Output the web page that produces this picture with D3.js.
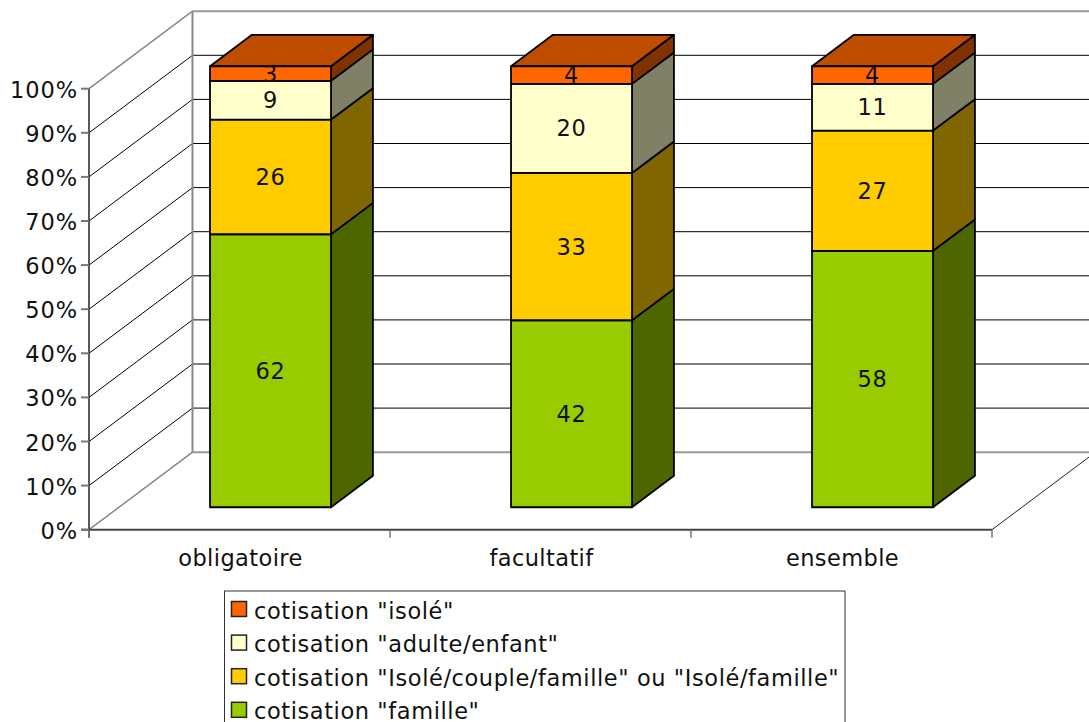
<!DOCTYPE html>
<html><head><meta charset="utf-8">
<script src="https://cdn.jsdelivr.net/npm/d3@7/dist/d3.min.js"></script>
<style>html,body{margin:0;padding:0;background:#fff;overflow:hidden}svg{display:block}text{font-family:"DejaVu Sans",sans-serif;fill:#111}</style>
</head><body><svg id="c" width="1089" height="722"></svg>
<script>
const categories = ["obligatoire","facultatif","ensemble"];
const seriesNames = ['cotisation "famille"','cotisation "Isolé/couple/famille" ou "Isolé/famille"','cotisation "adulte/enfant"','cotisation "isolé"'];
const famille = [61.9,42.4,58.2];
const isoleCouple = [26.0,33.4,27.3];
const adulteEnfant = [8.8,20.2,10.6];
const isole = [3.3,4.0,4.0];
const colors = ["#99CC00","#FFCC00","#FFFFCC","#FF6600"];
const ticks = [0,.1,.2,.3,.4,.5,.6,.7,.8,.9,1];

const svg = d3.select("#c");
const columns = [famille,isoleCouple,adulteEnfant,isole];
const rows = categories.map((c,i)=>{const r={cat:c};seriesNames.forEach((s,j)=>r[s]=columns[j][i]);return r;});
const stacked = d3.stack().keys(seriesNames).offset(d3.stackOffsetExpand)(rows);

const x = d3.scaleBand().domain(categories).range([89,992]).paddingInner(0).paddingOuter(0);
const y = d3.scaleLinear().domain([0,1]).range([529.7,88.7]);
const DX=103.5, DY=-77.5;
const P=(px,v,d)=>[px+DX*d, y(v)+DY*d];
const line=d3.line();
const zF=.29, zB=.695;
const barW=121;
const barLeft=c=>x(c)+(x.bandwidth()-barW)/2+1;

const defs=svg.append("defs");
defs.append("clipPath").attr("id","clip").append("rect").attr("width",1089).attr("height",722);
const g=svg.append("g").attr("clip-path","url(#clip)");
const L=(pts,stroke,w)=>g.append("path").attr("d",line(pts)).attr("fill","none").attr("stroke",stroke).attr("stroke-width",w);

ticks.forEach(t=>{
  const inner=t>0&&t<1;
  L([P(89,t,0),P(89,t,1)], inner?"#000":"#888", inner?1:1.5);
  L([P(89,t,1),P(992,t,1)], inner?"#000":"#999", inner?1:2);
});
L([P(89,0,1),P(89,1,1)],"#888",2);
L([P(992,0,0),P(992,0,1)],"#222",1);
L([[89,y(1)],[89,y(0)+8]],"#222",1.5);
L([[81,y(0)],[992,y(0)]],"#444",2);
ticks.forEach(t=>L([[81,y(t)],[89,y(t)]],"#777",2));
x.domain().concat(["end"]).forEach((c,i)=>{const px=89+x.step()*i;L([[px,y(0)],[px,y(0)+8]],"#777",1.5);});

g.append("g").selectAll("text").data(ticks).join("text")
 .attr("x",78).attr("y",t=>y(t)+9).attr("text-anchor","end").attr("font-size",22.5).attr("letter-spacing",.9)
 .text(d3.format(".0%"));
g.append("g").selectAll("text").data(categories).join("text")
 .attr("x",c=>x(c)+x.bandwidth()/2+1).attr("y",y(0)+36).attr("text-anchor","middle").attr("font-size",22.5).attr("letter-spacing",.4).text(c=>c);

const shade=(col,k)=>{const c=d3.rgb(col);return d3.rgb(c.r*k,c.g*k,c.b*k).formatHex();};
stacked.forEach((ser,si)=>{
  ser.forEach(d=>{
    const c=d.data.cat, l=barLeft(c), r=l+barW, col=colors[si];
    const F=(px,v)=>P(px,v,zF), B=(px,v)=>P(px,v,zB);
    const face=(pts,fill)=>g.append("path").attr("d",line(pts)+"Z").attr("fill",fill).attr("stroke","#000").attr("stroke-width",1.8).attr("stroke-linejoin","round");
    face([F(r,d[0]),B(r,d[0]),B(r,d[1]),F(r,d[1])],shade(col,.5));
    if(si===stacked.length-1) face([F(l,d[1]),F(r,d[1]),B(r,d[1]),B(l,d[1])],shade(col,.75));
    face([F(l,d[0]),F(r,d[0]),F(r,d[1]),F(l,d[1])],col);
  });
});
stacked.forEach((ser,si)=>ser.forEach((d,i)=>{
  const c=d.data.cat, l=barLeft(c), p=P(l+barW/2,(d[0]+d[1])/2,zF);
  g.append("text").attr("x",p[0]).attr("y",p[1]+8).attr("text-anchor","middle").attr("font-size",22.5).attr("letter-spacing",.8).text(Math.round(columns[si][i]));
}));

g.append("rect").attr("x",224.5).attr("y",591).attr("width",620.5).attr("height",150).attr("fill","#fff").attr("stroke","#333").attr("stroke-width",1);
const leg=g.append("g").selectAll("g").data(d3.range(seriesNames.length).reverse()).join("g")
 .attr("transform",(d,i)=>`translate(0,${610+i*33.6})`);
leg.append("rect").attr("x",231.5).attr("y",-8.5).attr("width",15).attr("height",15).attr("fill",d=>colors[d]).attr("stroke","#222").attr("stroke-width",1.5);
leg.append("text").attr("x",254).attr("y",8.6).attr("font-size",22.5).attr("letter-spacing",.58).text(d=>seriesNames[d]);
</script></body></html>
